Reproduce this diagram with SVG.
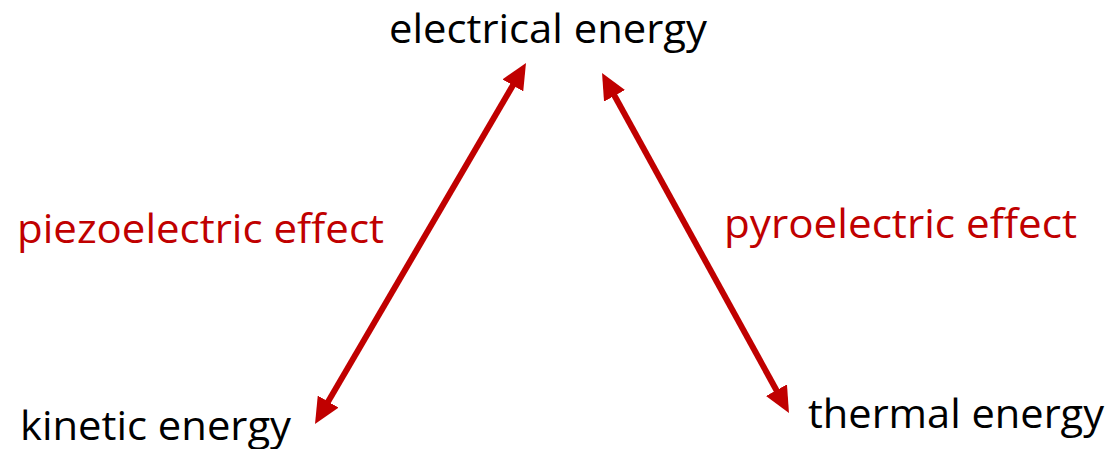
<svg xmlns="http://www.w3.org/2000/svg" width="1109" height="449" viewBox="0 0 1109 449">
<style>
.t{font-family:"Open Sans","Liberation Sans",sans-serif;font-size:40px;}
.blk{fill:#000;}
.red{fill:#C00000;}
.ln{stroke:#C00000;stroke-width:6;fill:none;}
</style>
<defs>
<marker id="ah" viewBox="0 0 26 24" refX="8" refY="12" markerWidth="26" markerHeight="24" markerUnits="userSpaceOnUse" orient="auto-start-reverse">
<path d="M0,0 L26,12 L0,24 z" fill="#C00000"/>
</marker>
</defs>
<rect width="1109" height="449" fill="#fff"/>
<g id="connectors">
<path class="ln" d="M516.9,78.5 L324.1,408.5" marker-start="url(#ah)" marker-end="url(#ah)"/>
<path class="ln" d="M610.7,88.8 L780.3,397.2" marker-start="url(#ah)" marker-end="url(#ah)"/>
</g>
<g id="electrical"><text class="t blk" x="389" y="43" textLength="318" lengthAdjust="spacingAndGlyphs">electrical energy</text></g>
<g id="kinetic"><text class="t blk" x="20" y="440" textLength="271" lengthAdjust="spacingAndGlyphs">kinetic energy</text></g>
<g id="thermal"><text class="t blk" x="808" y="428" textLength="296" lengthAdjust="spacingAndGlyphs">thermal energy</text></g>
<g id="piezo"><text class="t red" x="17" y="243" textLength="367" lengthAdjust="spacingAndGlyphs">piezoelectric effect</text></g>
<g id="pyro"><text class="t red" x="724" y="238" textLength="353" lengthAdjust="spacingAndGlyphs">pyroelectric effect</text></g>
</svg>
